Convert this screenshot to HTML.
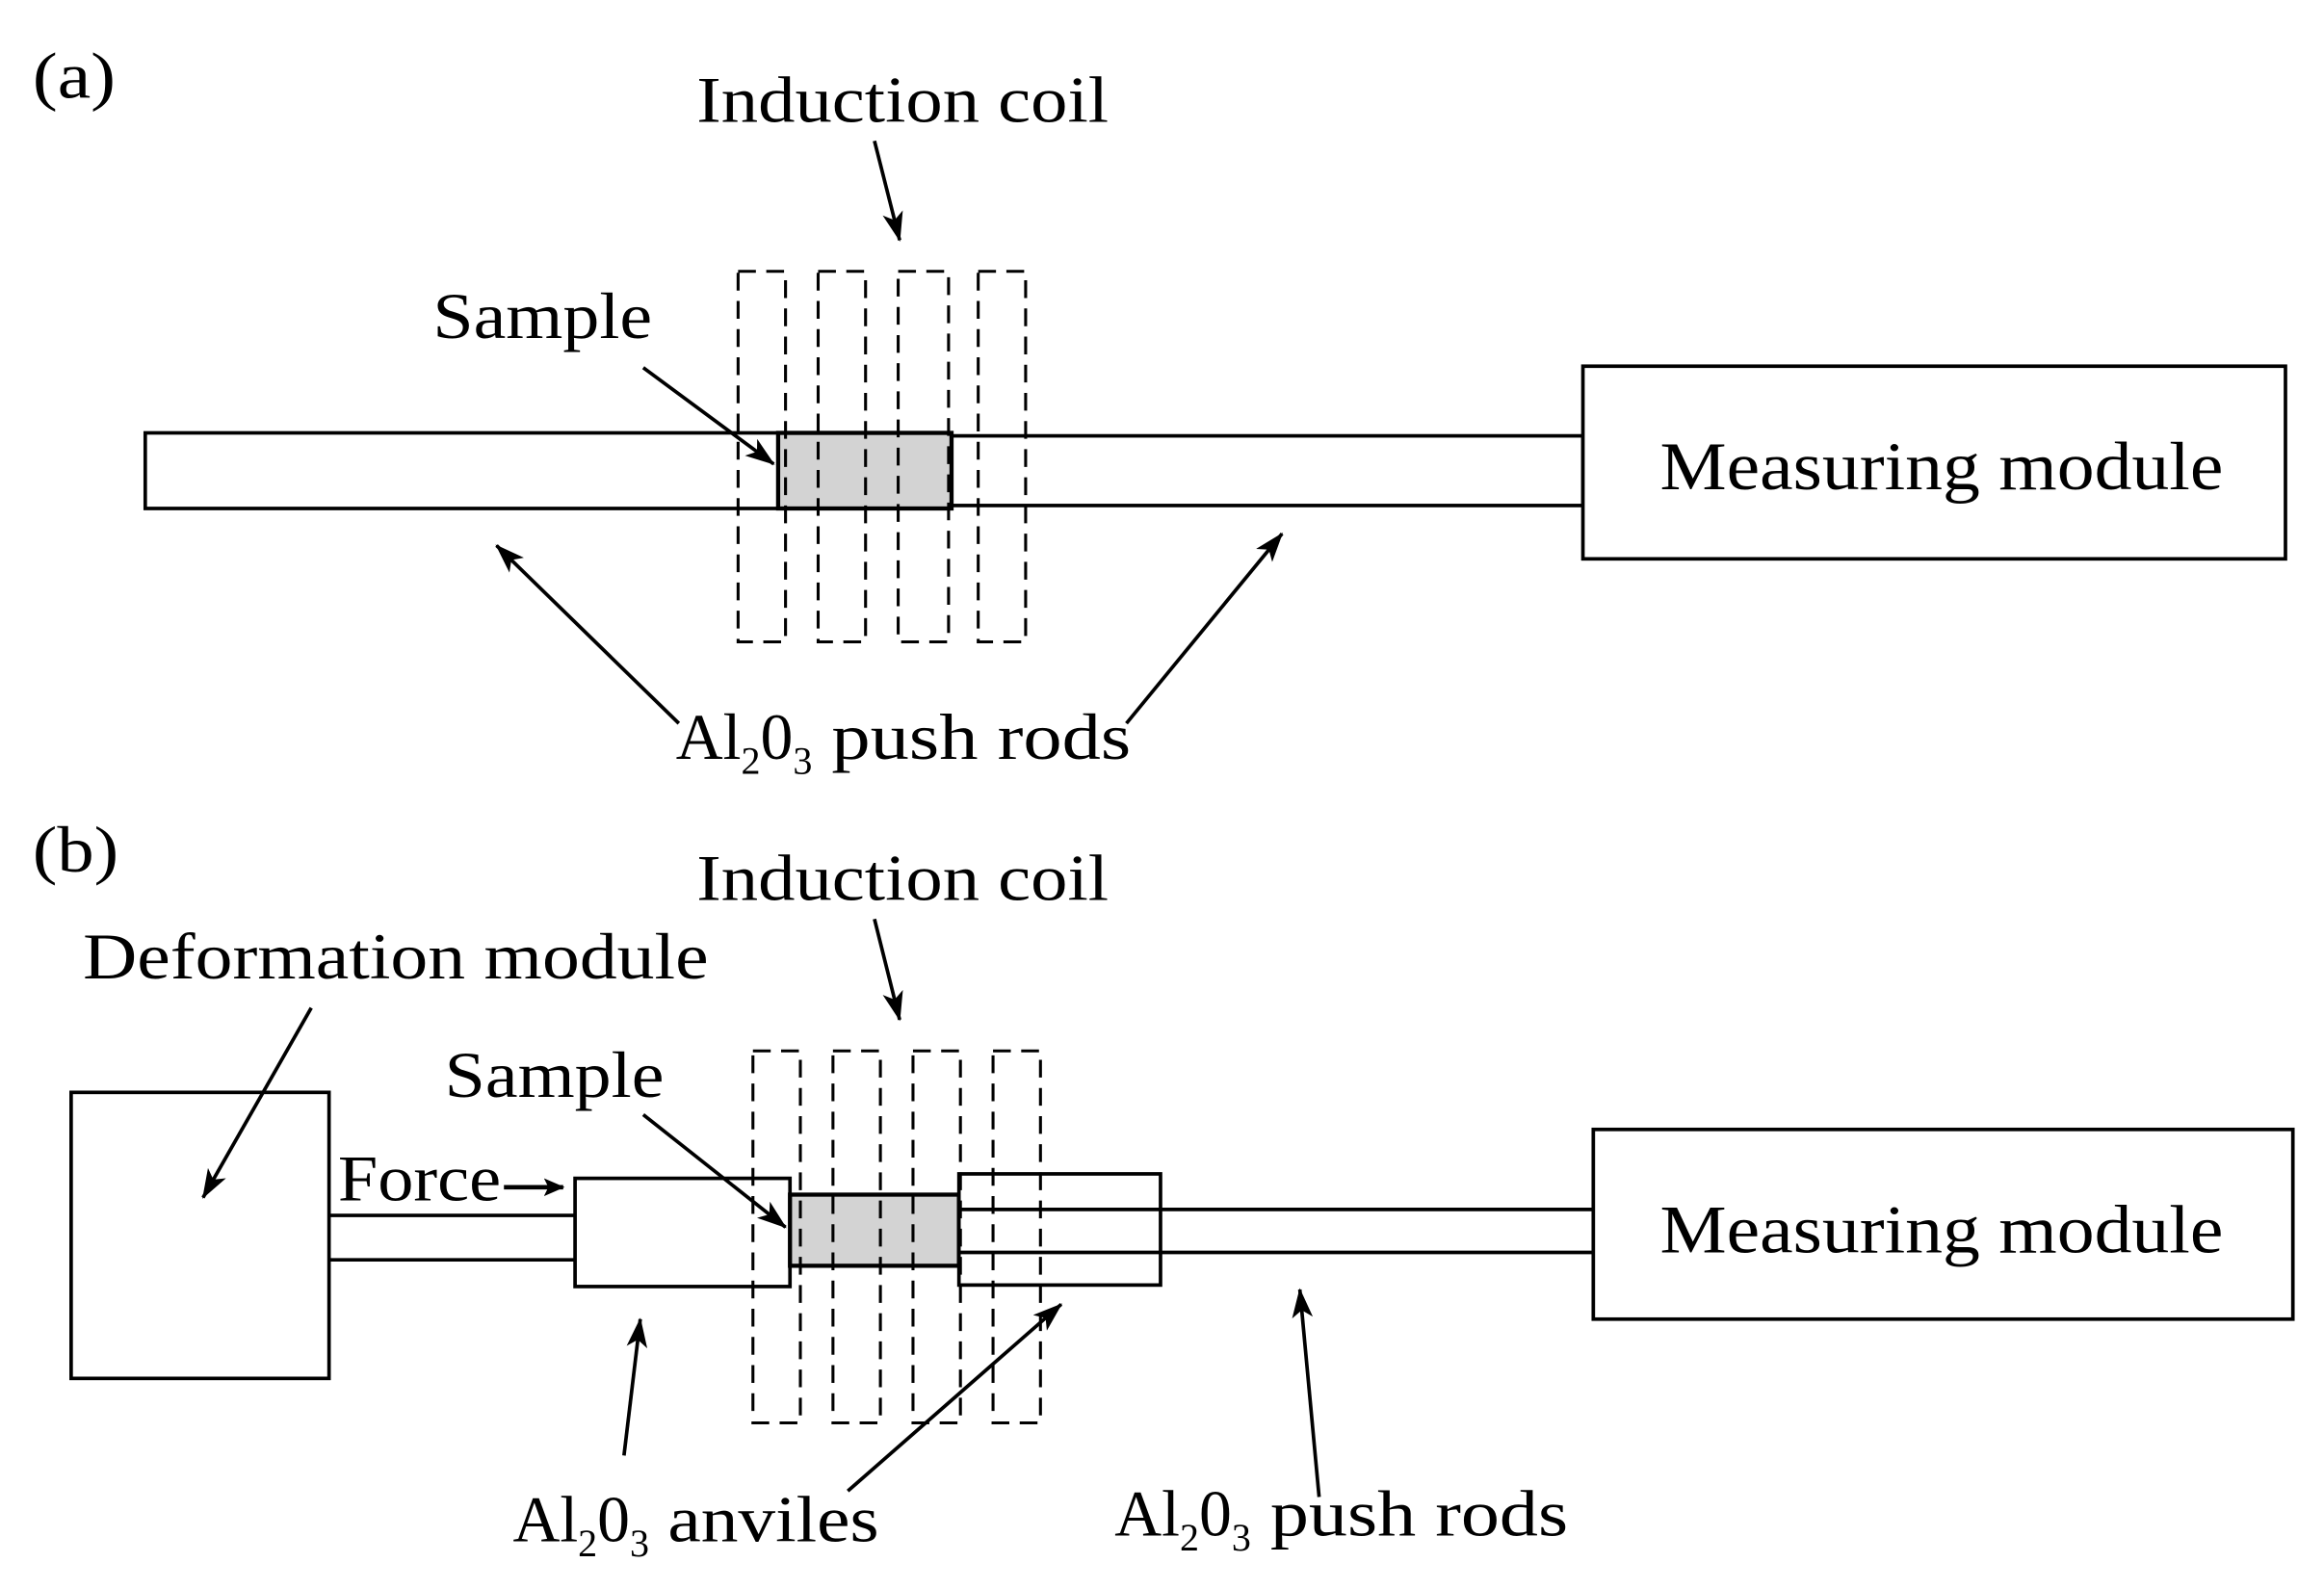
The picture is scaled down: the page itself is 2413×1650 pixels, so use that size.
<!DOCTYPE html>
<html><head><meta charset="utf-8"><style>
html,body{margin:0;padding:0;background:#fff;}
svg{display:block;}
text{font-family:"Liberation Serif",serif;fill:#000;}
</style></head><body>
<svg width="2413" height="1650" viewBox="0 0 1568 1072" xmlns="http://www.w3.org/2000/svg">
<defs>
<marker id="ah" markerWidth="14" markerHeight="12" refX="13" refY="6" orient="auto" markerUnits="userSpaceOnUse">
<path d="M0,0 L14,6 L0,12 L3,6 Z" fill="#000"/>
</marker>
<marker id="ah2" markerWidth="20" markerHeight="14" refX="19" refY="7" orient="auto" markerUnits="userSpaceOnUse">
<path d="M0,0 L20,7 L0,14 L5,7 Z" fill="#000"/>
</marker>
</defs>
<g stroke="#000" fill="none" stroke-width="2.4">
<!-- (a) -->
<line x1="590" y1="95" x2="607" y2="162" marker-end="url(#ah2)"/>
<rect x="98" y="292" width="427" height="51" fill="#fff"/>
<rect x="642" y="294" width="426" height="47" fill="#fff"/>
<rect x="525" y="292" width="117" height="51" fill="#d3d3d3" stroke-width="2.8"/>
<g stroke-dasharray="12,7" stroke-width="2">
<rect x="498" y="183" width="32" height="250"/>
<rect x="552" y="183" width="32" height="250"/>
<rect x="606" y="183" width="34" height="250"/>
<rect x="660" y="183" width="32" height="250"/>
</g>
<rect x="1068" y="247" width="474" height="130" fill="#fff"/>
<line x1="434" y1="248" x2="522" y2="313" marker-end="url(#ah2)"/>
<line x1="458" y1="488" x2="335" y2="368" marker-end="url(#ah2)"/>
<line x1="760" y1="488" x2="865" y2="360" marker-end="url(#ah2)"/>
<!-- (b) -->
<line x1="590" y1="620" x2="607" y2="688" marker-end="url(#ah2)"/>
<rect x="48" y="737" width="174" height="193" fill="#fff"/>
<line x1="222" y1="820" x2="388" y2="820"/>
<line x1="222" y1="850" x2="388" y2="850"/>
<rect x="388" y="795" width="145" height="73" fill="#fff"/>
<rect x="533" y="806" width="114" height="48" fill="#d3d3d3" stroke-width="2.8"/>
<rect x="647" y="792" width="136" height="75" fill="#fff"/>
<line x1="647" y1="816" x2="1075" y2="816"/>
<line x1="647" y1="845" x2="1075" y2="845"/>
<g stroke-dasharray="12,7" stroke-width="2">
<rect x="508" y="709" width="32" height="251"/>
<rect x="562" y="709" width="32" height="251"/>
<rect x="616" y="709" width="32" height="251"/>
<rect x="670" y="709" width="32" height="251"/>
</g>
<rect x="1075" y="762" width="472" height="128" fill="#fff"/>
<line x1="210" y1="680" x2="137" y2="808" marker-end="url(#ah2)"/>
<line x1="340" y1="801" x2="380" y2="801" stroke-width="3" marker-end="url(#ah)"/>
<line x1="434" y1="752" x2="530" y2="828" marker-end="url(#ah2)"/>
<line x1="421" y1="982" x2="432" y2="890" marker-end="url(#ah2)"/>
<line x1="572" y1="1006" x2="716" y2="880" marker-end="url(#ah2)"/>
<line x1="890" y1="1010" x2="877" y2="870" marker-end="url(#ah2)"/>
</g>
<g font-size="44">
<text x="22" y="66" textLength="56" lengthAdjust="spacingAndGlyphs">(a)</text>
<text x="470" y="82" textLength="278" lengthAdjust="spacingAndGlyphs">Induction coil</text>
<text x="292" y="228" textLength="148" lengthAdjust="spacingAndGlyphs">Sample</text>
<text x="1120" y="330" font-size="46" textLength="380" lengthAdjust="spacingAndGlyphs">Measuring module</text>
<text x="456" y="512">Al<tspan font-size="26" dy="10">2</tspan><tspan dy="-10">0</tspan><tspan font-size="26" dy="10">3</tspan><tspan dy="-10" textLength="215" lengthAdjust="spacingAndGlyphs"> push rods</tspan></text>
<text x="22" y="588" textLength="58" lengthAdjust="spacingAndGlyphs">(b)</text>
<text x="470" y="607" textLength="278" lengthAdjust="spacingAndGlyphs">Induction coil</text>
<text x="56" y="660" textLength="422" lengthAdjust="spacingAndGlyphs">Deformation module</text>
<text x="300" y="740" textLength="148" lengthAdjust="spacingAndGlyphs">Sample</text>
<text x="228" y="810" textLength="110" lengthAdjust="spacingAndGlyphs">Force</text>
<text x="1120" y="845" font-size="46" textLength="380" lengthAdjust="spacingAndGlyphs">Measuring module</text>
<text x="346" y="1040">Al<tspan font-size="26" dy="10">2</tspan><tspan dy="-10">0</tspan><tspan font-size="26" dy="10">3</tspan><tspan dy="-10" textLength="155" lengthAdjust="spacingAndGlyphs"> anviles</tspan></text>
<text x="752" y="1036">Al<tspan font-size="26" dy="10">2</tspan><tspan dy="-10">0</tspan><tspan font-size="26" dy="10">3</tspan><tspan dy="-10" textLength="214" lengthAdjust="spacingAndGlyphs"> push rods</tspan></text>
</g>
</svg>
</body></html>
